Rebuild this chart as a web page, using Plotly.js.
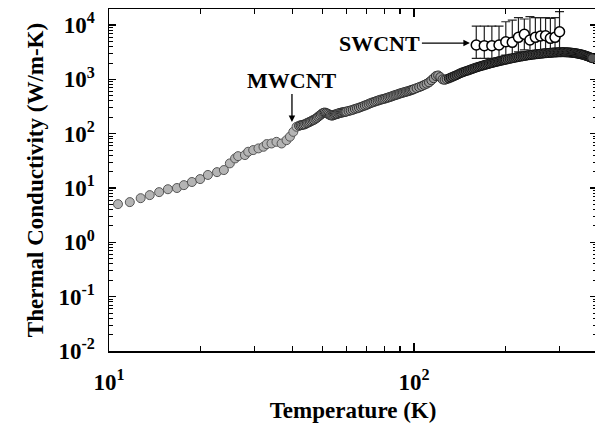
<!DOCTYPE html>
<html>
<head>
<meta charset="utf-8">
<script src="https://cdn.plot.ly/plotly-3.0.1.min.js"></script>
<style>
html,body{margin:0;padding:0;overflow:hidden;background:#fff;}
#chart{width:600px;height:428px;}
</style>
</head>
<body>
<div id="chart"></div>
<script>
// MWCNT thermal conductivity (filled grey circles)
var mwT = [10.7,11.7,12.7,13.6,14.6,15.6,16.7,17.6,18.7,19.9,21.1,22.6,23.8,
  24.9,25.9,26.5,27.9,28.6,29.7,30.9,32.1,32.9,34.1,35.4,36.8,38.2,39.2,40.2,41.2,
  42,42.5,43,43.5,44,44.5,45,45.5,46,46.5,47,47.5,48,48.5,49,49.5,50,50.5,51,51.5,52,52.5,53,53.5,54,54.5,
  55,55.5,56,56.5,57,57.5,58,58.5,59,59.5,60,
  61,62,63,64,65,66,67,68,69,70,71,72,73,74,75,76,77,78,79,80,81,82,83,84,85,86,87,88,89,90,
  91,92,93,94,95,96,97,98,99,100,
  102,104,106,108,110,112,114,116,118,120,122,124,126,128,130,132,134,136,138,140,142,144,146,148,150,
  152,154,156,158,160,162,164,166,168,170,172,174,176,178,180,182,184,186,188,190,192,194,196,198,200,
  203,206,209,212,215,218,221,224,227,230,233,236,239,242,245,248,251,254,257,260,263,266,269,272,275,
  278,281,284,287,290,293,296,299,302,305,308,311,314,317,320,323,326,329,332,335,338,341,344,347,350,
  353,356,359,362,365,368,371,374,377,380,384];
var mwK = [5.05,5.5,6.5,7.4,8.4,9.5,10,11.3,12.9,14.6,17.4,19.6,21.4,
  28.4,35,38.6,40.4,46.5,49.9,53.6,57.4,64.3,66,70.8,66,76,88,108,134,
  140,143,145,147,150,156,160,165,170,176,180,188,195,205,215,225,235,242,245,240,235,228,220,217,215,220,
  225,228,230,236,240,243,245,248,250,253,255,
  262,268,275,285,292,300,310,320,330,340,352,365,375,385,395,405,415,425,432,440,450,460,470,480,492,505,515,525,538,550,
  560,570,580,590,600,610,622,635,648,660,
  690,720,750,790,830,880,960,1050,1150,1180,1100,1000,980,1010,1040,1080,1120,1160,1200,1250,1300,1340,1380,1415,1450,
  1490,1530,1570,1610,1650,1690,1725,1760,1795,1830,1865,1900,1935,1970,2000,2030,2065,2095,2130,2160,2190,2220,2250,2275,2305,
  2340,2390,2430,2470,2510,2550,2590,2625,2660,2695,2730,2765,2790,2820,2845,2870,2895,2915,2940,2960,2985,3005,3025,3040,3055,
  3070,3085,3100,3115,3125,3135,3145,3150,3155,3160,3160,3158,3152,3145,3135,3125,3110,3095,3075,3055,3030,3005,2980,2950,2920,
  2890,2855,2820,2780,2740,2690,2650,2610,2560,2510,2450];

// SWCNT thermal conductivity (open circles with error bars)
var swT = [160,170,180,190,200,210,220,230,240,250,260,270,280,290,300];
var swK = [4285,4170,4170,4285,4930,4800,5930,6740,5300,5930,6270,6360,5690,5930,7530];
var swHigh = [9580,9580,9580,9580,11500,12360,13640,12900,14230,13640,13640,13640,13240,13640,17600];
var swLow  = [2430,2430,2430,2430,2800,2900,3200,3500,3000,3300,3400,3400,3300,3400,3600];

// Axis ticks
var xTickVals = [10,100];
var xTickText = ['10<sup>1</sup>','10<sup>2</sup>'];
var xMinorVals = [20,30,40,50,60,70,80,90,200,300];
var yTickVals = [0.01,0.1,1,10,100,1000,10000];
var yTickText = ['10<sup>-2</sup>','10<sup>-1</sup>','10<sup>0</sup>','10<sup>1</sup>','10<sup>2</sup>','10<sup>3</sup>','10<sup>4</sup>'];

var errPlus = swHigh.map(function(v,i){return v - swK[i];});
var errMinus = swLow.map(function(v,i){return swK[i] - v;});

// darker outlines where the measured points are densely packed
var mwLine = mwT.map(function(t){ return t < 42 ? '#555555' : (t < 130 ? '#2e2e2e' : '#111111'); });
var mwFill = mwT.map(function(t){ return t < 42 ? '#b4b4b4' : (t < 130 ? '#9a9a9a' : '#555555'); });

var serif = 'Liberation Serif, Times New Roman, serif';

var traces = [
  {
    x: swT, y: swK, type: 'scatter', mode: 'markers', name: 'SWCNT',
    marker: {symbol: 'circle', size: 10, color: '#ffffff', line: {color: '#000000', width: 1.5}},
    error_y: {type: 'data', symmetric: false, array: errPlus, arrayminus: errMinus,
              color: '#222222', thickness: 1.2, width: 4.5},
    showlegend: false
  },
  {
    x: mwT, y: mwK, type: 'scatter', mode: 'markers', name: 'MWCNT',
    marker: {symbol: 'circle', size: 9, color: mwFill, line: {color: mwLine, width: 1}},
    showlegend: false
  }
];

var yMinor = [];
[0.01,0.1,1,10,100,1000].forEach(function(d){for(var m=2;m<=9;m++){yMinor.push(d*m);}});

var layout = {
  width: 600, height: 428,
  margin: {l: 109, r: 3, t: 9, b: 77},
  paper_bgcolor: '#ffffff', plot_bgcolor: '#ffffff',
  font: {family: serif, color: '#000000'},
  xaxis: {
    type: 'log', range: [1, 2.6],
    tickvals: xTickVals, ticktext: xTickText,
    ticks: 'inside', ticklen: 8, tickwidth: 1.3, tickcolor: '#000',
    showline: true, linecolor: '#000', linewidth: 1.5, mirror: 'ticks',
    showgrid: false, zeroline: false,
    tickfont: {family: serif, size: 23, weight: 700, color: '#000'},
    ticklabelstandoff: 10,
    minor: {tickvals: xMinorVals, ticks: 'inside', ticklen: 5, tickwidth: 1.2, tickcolor: '#000', showgrid: false},
    title: {text: 'Temperature (K)', font: {family: serif, size: 23, weight: 700, color: '#000'}, standoff: 8}
  },
  yaxis: {
    type: 'log', range: [-2, 4.295],
    tickvals: yTickVals, ticktext: yTickText,
    ticks: 'inside', ticklen: 7, tickwidth: 1.3, tickcolor: '#000',
    showline: true, linecolor: '#000', linewidth: 1.5, mirror: 'ticks',
    showgrid: false, zeroline: false,
    tickfont: {family: serif, size: 23, weight: 700, color: '#000'},
    ticklabelstandoff: 8,
    minor: {tickvals: yMinor, ticks: 'inside', ticklen: 4, tickwidth: 1, tickcolor: '#000', showgrid: false},
    title: {text: 'Thermal Conductivity (W/m-K)', font: {family: serif, size: 23, weight: 700, color: '#000'}, standoff: 8}
  },
  annotations: [
    {x: Math.log10(152.5), y: Math.log10(4660), xref: 'x', yref: 'y',
     text: 'SWCNT', showarrow: true, ax: -90, ay: 0,
     arrowhead: 2, arrowsize: 1, arrowwidth: 1.3, arrowcolor: '#000',
     font: {family: serif, size: 22, weight: 700, color: '#000'}},
    {x: Math.log10(39.8), y: Math.log10(164), xref: 'x', yref: 'y',
     text: 'MWCNT', showarrow: true, ax: 0, ay: -42,
     arrowhead: 2, arrowsize: 1, arrowwidth: 1.3, arrowcolor: '#000',
     font: {family: serif, size: 22, weight: 700, color: '#000'}}
  ]
};

Plotly.newPlot('chart', traces, layout, {displayModeBar: false, staticPlot: true});
</script>
</body>
</html>
